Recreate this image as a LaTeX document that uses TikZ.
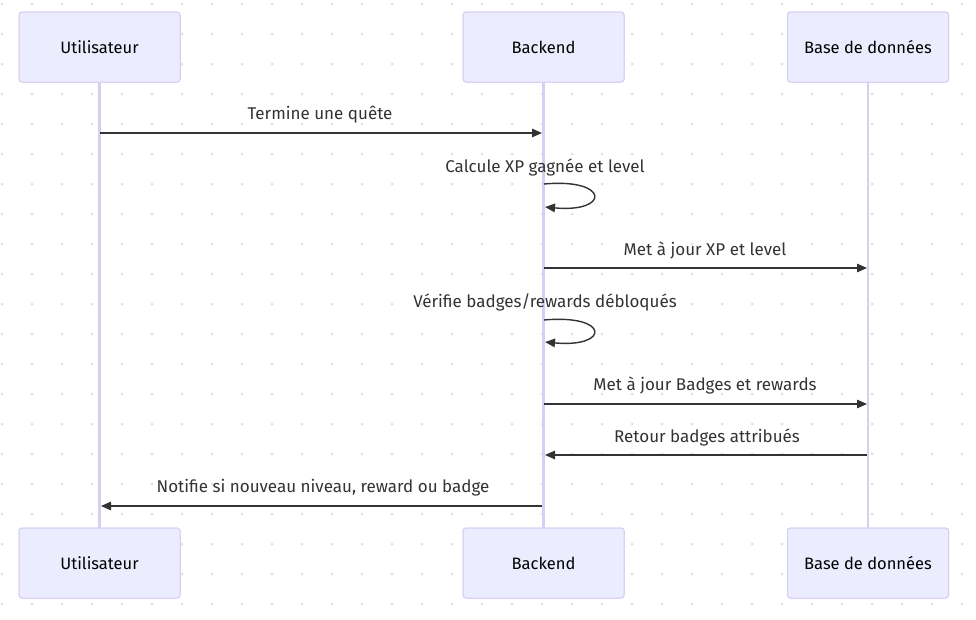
\documentclass[tikz,border=0pt]{standalone}
\usepackage{fontspec}
\setmainfont{Fira Sans}
\usetikzlibrary{arrows.meta,positioning}
\definecolor{boxfill}{HTML}{ECECFF}
\definecolor{boxline}{HTML}{D8CDF5}
\definecolor{msgcol}{HTML}{333333}
\definecolor{dotcol}{HTML}{E0E0E0}
\tikzset{
  >={Triangle[length=10pt,width=8.5pt]},
  actor/.style = {rectangle, rounded corners=3pt, draw=boxline, fill=boxfill, line width=1pt,
                  minimum width=161pt, minimum height=70pt, inner sep=0pt, font=\fontsize{16.5}{19}\selectfont},
  life/.style = {draw=boxline, line width=2.2pt},
  msg/.style = {->, draw=msgcol, line width=1.4pt},
  lbl/.style = {text=msgcol, inner sep=0pt, font=\fontsize{17}{20}\selectfont},
}

\begin{document}
\begin{tikzpicture}[x=1pt, y=-1pt]
  \useasboundingbox (0,0) rectangle (976,619);
  \fill[white] (0,0) rectangle (976,619);
  % dotted background
  \foreach \i in {0,...,32} {
    \foreach \j in {0,...,20} {
      \fill[dotcol] (2+30*\i, 4+30*\j) circle (1.5pt);
    }
  }

  \node[actor] (uTop) at (99.5,47) {Utilisateur};
  \node[actor] (bTop) at (543.5,47) {Backend};
  \node[actor] (dTop) at (868,47) {Base de données};
  \node[actor] (uBot) at (99.5,563) {Utilisateur};
  \node[actor] (bBot) at (543.5,563) {Backend};
  \node[actor] (dBot) at (868,563) {Base de données};

  \path[life] (uTop) -- (uBot);
  \path[life] (bTop) -- (bBot);
  \path[life] (dTop) -- (dBot);
  % redraw boxes over lifelines
  \node[actor] at (uTop) {Utilisateur};
  \node[actor] at (bTop) {Backend};
  \node[actor] at (dTop) {Base de données};
  \node[actor] at (uBot) {Utilisateur};
  \node[actor] at (bBot) {Backend};
  \node[actor] at (dBot) {Base de données};

  % message ends on the lifelines
  \coordinate (u1) at (100,133);  \coordinate (b1) at (542,133);
  \coordinate (b2) at (544,184);  \coordinate (b2e) at (545,207);
  \coordinate (b3) at (544,268);  \coordinate (d3) at (867,268);
  \coordinate (b4) at (544,320);  \coordinate (b4e) at (545,342);
  \coordinate (b5) at (544,404);  \coordinate (d5) at (867,404);
  \coordinate (d6) at (867,455);  \coordinate (b6) at (545,455);
  \coordinate (b7) at (542,506);  \coordinate (u7) at (101,506);

  \draw[msg] (u1) -- (b1);                                          % Utilisateur -> Backend
  \draw[msg] (b2) .. controls (610,178) and (610,213) .. (b2e);     % self
  \draw[msg] (b3) -- (d3);                                          % Backend -> BDD
  \draw[msg] (b4) .. controls (610,314) and (610,348) .. (b4e);     % self
  \draw[msg] (b5) -- (d5);                                          % Backend -> BDD
  \draw[msg] (d6) -- (b6);                                          % BDD -> Backend
  \draw[msg] (b7) -- (u7);                                          % Backend -> Utilisateur

  \node[lbl] (l1) at (320,115) {Termine une quête};
  \node[lbl] (l2) at (545,167) {Calcule XP gagnée et level};
  \node[lbl] (l3) at (705,250) {Met à jour XP et level};
  \node[lbl] (l4) at (545,302) {Vérifie badges/rewards débloqués};
  \node[lbl] (l5) at (705,385) {Met à jour Badges et rewards};
  \node[lbl] (l6) at (707,437) {Retour badges attribués};
  \node[lbl] (l7) at (323,488) {Notifie si nouveau niveau, reward ou badge};
\end{tikzpicture}
\end{document}
